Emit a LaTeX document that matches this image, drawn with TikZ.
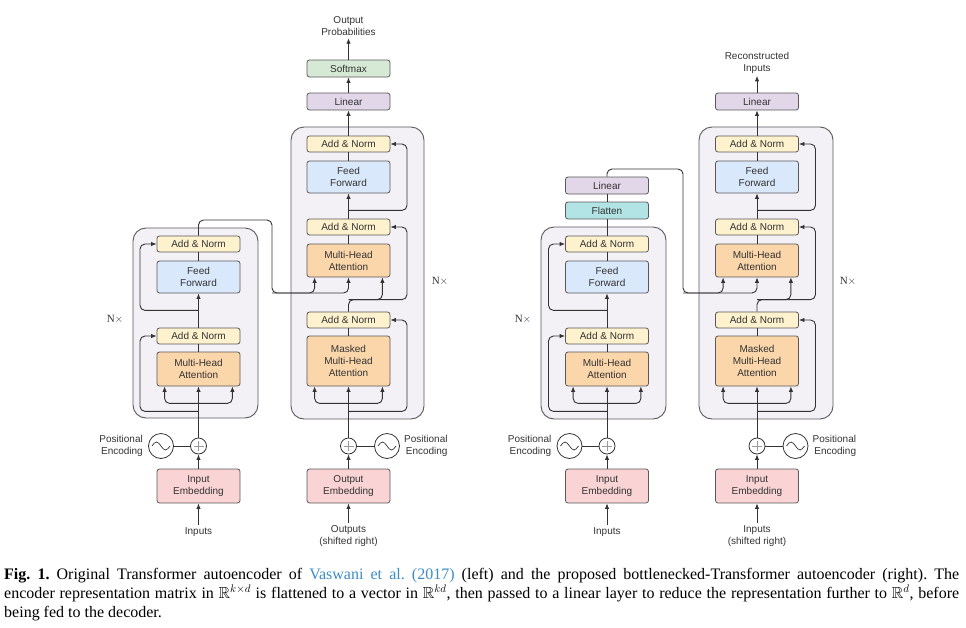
\documentclass[tikz,border=0pt]{standalone}
\usepackage{fontspec}
\usepackage{amssymb}
\setmainfont{Liberation Serif}
\setsansfont{Liberation Sans}
\usetikzlibrary{arrows.meta}

\definecolor{anfill}{HTML}{FDF1CE}
\definecolor{fffill}{HTML}{DAE8FB}
\definecolor{mhafill}{HTML}{FBD6AA}
\definecolor{embfill}{HTML}{FAD4D4}
\definecolor{linfill}{HTML}{E2D6E9}
\definecolor{softfill}{HTML}{D5E9D5}
\definecolor{flatfill}{HTML}{B2E4E6}
\definecolor{stackfill}{HTML}{F3F0F6}
\definecolor{linecol}{HTML}{333333}
\definecolor{capblue}{HTML}{3B8DC4}

\begin{document}
\begin{tikzpicture}[x=1pt,y=-1pt,>={Latex[length=5.5pt,width=4.5pt]},
    wire/.style={draw=linecol,line width=0.9pt,rounded corners=5pt},
    blk/.style={draw=black!65,line width=0.8pt,rounded corners=2.5pt,minimum width=83pt,
      inner sep=2pt,align=center,text=black!80,font=\sffamily\fontsize{10}{12}\selectfont},
    addnorm/.style={blk,fill=anfill,minimum height=16pt},
    ffbox/.style={blk,fill=fffill,minimum height=32pt},
    attn/.style={blk,fill=mhafill,minimum height=34pt},
    embbox/.style={blk,fill=embfill,minimum height=34pt},
    linbox/.style={blk,fill=linfill,minimum height=17pt},
    softbox/.style={blk,fill=softfill,minimum height=17pt},
    flatbox/.style={blk,fill=flatfill,minimum height=17pt},
    stackbox/.style={draw=black!65,fill=stackfill,line width=0.9pt,rounded corners=13pt},
    lbl/.style={inner sep=2pt,align=center,text=black!80,font=\sffamily\fontsize{10}{12}\selectfont},
    nlbl/.style={inner sep=1pt,text=black!80,font=\rmfamily\fontsize{11}{13}\selectfont},
    plusnode/.style={circle,draw=linecol,line width=0.8pt,fill=white,minimum size=16pt,inner sep=0pt,
      path picture={\draw[black!40,line width=0.6pt]
        ([xshift=-5pt]path picture bounding box.center) -- ([xshift=5pt]path picture bounding box.center)
        ([yshift=-5pt]path picture bounding box.center) -- ([yshift=5pt]path picture bounding box.center);}},
    sinenode/.style={circle,draw=linecol,line width=0.8pt,fill=white,minimum size=25pt,inner sep=0pt,
      path picture={\draw[linecol,line width=0.7pt]
        ([xshift=-9pt]path picture bounding box.center) sin ++(4.5,-4) cos ++(4.5,4) sin ++(4.5,4) cos ++(4.5,-4);}}]
  \useasboundingbox (0,0) rectangle (966,627);

  % stacks
  \node (aencbox) [stackbox,minimum width=125pt,minimum height=190pt] at (195.5,323) {};
  \node (adecbox) [stackbox,minimum width=133pt,minimum height=292pt] at (357.5,273) {};
  \node (bencbox) [stackbox,minimum width=125pt,minimum height=192pt] at (603.5,323) {};
  \node (bdecbox) [stackbox,minimum width=134pt,minimum height=292pt] at (766,273) {};

  % left: encoder
  \node (aemb) [embbox] at (198.5,486) {Input\\Embedding};
  \node (ainp) [lbl,below of=aemb,node distance=46pt] {Inputs};
  \node (aplus) [plusnode,above of=aemb,node distance=40pt] {};
  \node (apos) [sinenode,left of=aplus,node distance=37.5pt] {};
  \node (apostxt) [lbl,align=right,left of=apos,node distance=16pt,anchor=east] {Positional\\Encoding};
  \node (amha) [attn,above of=aplus,node distance=77pt] {Multi-Head\\Attention};
  \node (aan1) [addnorm,above of=amha,node distance=33pt] {Add \& Norm};
  \node (aff) [ffbox,above of=aan1,node distance=59pt] {Feed\\Forward};
  \node (aan2) [addnorm,above of=aff,node distance=33pt] {Add \& Norm};
  \node (anx) [nlbl] at (115,319) {N$\times$};

  % left: decoder
  \node (aoemb) [embbox] at (348.5,486) {Output\\Embedding};
  \node (aout) [lbl,below of=aoemb,node distance=50pt] {Outputs\\(shifted right)};
  \node (aoplus) [plusnode,above of=aoemb,node distance=40pt] {};
  \node (aopos) [sinenode,right of=aoplus,node distance=38.5pt] {};
  \node (aopostxt) [lbl,align=right,right of=aopos,node distance=15pt,anchor=west] {Positional\\Encoding};
  \node (amm) [attn,minimum height=50pt,above of=aoplus,node distance=85pt] {Masked\\Multi-Head\\Attention};
  \node (adan1) [addnorm,above of=amm,node distance=41pt] {Add \& Norm};
  \node (admha) [attn,minimum height=33pt,above of=adan1,node distance=59.5pt] {Multi-Head\\Attention};
  \node (adan2) [addnorm,above of=admha,node distance=33.5pt] {Add \& Norm};
  \node (adff) [ffbox,above of=adan2,node distance=50pt] {Feed\\Forward};
  \node (adan3) [addnorm,above of=adff,node distance=33pt] {Add \& Norm};
  \node (alin) [linbox,above of=adan3,node distance=42.5pt] {Linear};
  \node (asoft) [softbox,above of=alin,node distance=33pt] {Softmax};
  \node (aprob) [lbl,above of=asoft,node distance=42pt] {Output\\Probabilities};
  \node (adnx) [nlbl] at (440,281) {N$\times$};

  \draw[wire,->] (ainp) -- (aemb);
  \draw[wire,->] (aemb) -- (aplus);
  \draw[wire] (apos) -- (aplus);
  \draw[wire,->] (aplus) -- (amha);
  \coordinate (asplit) at ([yshift=-17pt]amha.south);
  \draw[wire,->] (asplit) -| ([xshift=8pt]amha.south west);
  \draw[wire,->] (asplit) -| ([xshift=-8pt]amha.south east);
  \coordinate (ares1) at ([yshift=-25pt]amha.south);
  \draw[wire,->] (ares1) -- ++(-58.5,0) |- (aan1.west);
  \draw[wire] (amha) -- (aan1);
  \draw[wire,->] (aan1) -- (aff);
  \coordinate (ares2) at ([yshift=-17pt]aff.south);
  \draw[wire,->] (ares2) -- ++(-58.5,0) |- (aan2.west);
  \draw[wire] (aff) -- (aan2);
  \coordinate (aenc) at (272,293);
  \draw[wire,->] (aan2) -- ++(0,-24) -| (aenc) -| ([xshift=8pt]admha.south west);
  \draw[wire,->] (aenc) -| (admha.south);

  \draw[wire,->] (aout) -- (aoemb);
  \draw[wire,->] (aoemb) -- (aoplus);
  \draw[wire] (aopos) -- (aoplus);
  \draw[wire,->] (aoplus) -- (amm);
  \coordinate (adsplit) at ([yshift=-17pt]amm.south);
  \draw[wire,->] (adsplit) -| ([xshift=8pt]amm.south west);
  \draw[wire,->] (adsplit) -| ([xshift=-8pt]amm.south east);
  \coordinate (adres1) at ([yshift=-25pt]amm.south);
  \draw[wire,->] (adres1) -- ++(58.5,0) |- (adan1.east);
  \draw[wire] (amm) -- (adan1);
  \coordinate (adres2) at ([yshift=12pt]adan1.north);
  \draw[wire,->] (adan1) -- (adres2) -- ++(58.5,0) |- (adan2.east);
  \draw[wire,->] (adres2) -| ([xshift=-8pt]admha.south east);
  \draw[wire] (admha) -- (adan2);
  \draw[wire,->] (adan2) -- (adff);
  \coordinate (adres3) at ([yshift=-17pt]adff.south);
  \draw[wire,->] (adres3) -- ++(58.5,0) |- (adan3.east);
  \draw[wire] (adff) -- (adan3);
  \draw[wire,->] (adan3) -- (alin);
  \draw[wire,->] (alin) -- (asoft);
  \draw[wire,->] (asoft) -- (aprob);

  % right: encoder
  \node (bemb) [embbox] at (607,486) {Input\\Embedding};
  \node (binp) [lbl,below of=bemb,node distance=46pt] {Inputs};
  \node (bplus) [plusnode,above of=bemb,node distance=40pt] {};
  \node (bpos) [sinenode,left of=bplus,node distance=37.5pt] {};
  \node (bpostxt) [lbl,align=right,left of=bpos,node distance=16pt,anchor=east] {Positional\\Encoding};
  \node (bmha) [attn,above of=bplus,node distance=77pt] {Multi-Head\\Attention};
  \node (ban1) [addnorm,above of=bmha,node distance=33pt] {Add \& Norm};
  \node (bff) [ffbox,above of=ban1,node distance=59pt] {Feed\\Forward};
  \node (ban2) [addnorm,above of=bff,node distance=33pt] {Add \& Norm};
  \node (bflat) [flatbox,above of=ban2,node distance=33.5pt] {Flatten};
  \node (blin) [linbox,above of=bflat,node distance=25pt] {Linear};
  \node (bnx) [nlbl] at (523,319) {N$\times$};

  % right: decoder
  \node (boemb) [embbox] at (757,486) {Input\\Embedding};
  \node (bout) [lbl,below of=boemb,node distance=50pt] {Inputs\\(shifted right)};
  \node (boplus) [plusnode,above of=boemb,node distance=40pt] {};
  \node (bopos) [sinenode,right of=boplus,node distance=38.5pt] {};
  \node (bopostxt) [lbl,align=right,right of=bopos,node distance=15pt,anchor=west] {Positional\\Encoding};
  \node (bmm) [attn,minimum height=50pt,above of=boplus,node distance=85pt] {Masked\\Multi-Head\\Attention};
  \node (bdan1) [addnorm,above of=bmm,node distance=41pt] {Add \& Norm};
  \node (bdmha) [attn,minimum height=33pt,above of=bdan1,node distance=59.5pt] {Multi-Head\\Attention};
  \node (bdan2) [addnorm,above of=bdmha,node distance=33.5pt] {Add \& Norm};
  \node (bdff) [ffbox,above of=bdan2,node distance=50pt] {Feed\\Forward};
  \node (bdan3) [addnorm,above of=bdff,node distance=33pt] {Add \& Norm};
  \node (bdlin) [linbox,above of=bdan3,node distance=42.5pt] {Linear};
  \node (brec) [lbl,above of=bdlin,node distance=38.5pt] {Reconstructed\\Inputs};
  \node (bdnx) [nlbl] at (848,281) {N$\times$};

  \draw[wire,->] (binp) -- (bemb);
  \draw[wire,->] (bemb) -- (bplus);
  \draw[wire] (bpos) -- (bplus);
  \draw[wire,->] (bplus) -- (bmha);
  \coordinate (bsplit) at ([yshift=-17pt]bmha.south);
  \draw[wire,->] (bsplit) -| ([xshift=8pt]bmha.south west);
  \draw[wire,->] (bsplit) -| ([xshift=-8pt]bmha.south east);
  \coordinate (bres1) at ([yshift=-25pt]bmha.south);
  \draw[wire,->] (bres1) -- ++(-58.5,0) |- (ban1.west);
  \draw[wire] (bmha) -- (ban1);
  \draw[wire,->] (ban1) -- (bff);
  \coordinate (bres2) at ([yshift=-17pt]bff.south);
  \draw[wire,->] (bres2) -- ++(-58.5,0) |- (ban2.west);
  \draw[wire] (bff) -- (ban2);
  \draw[wire] (ban2) -- (bflat);
  \draw[wire] (bflat) -- (blin);
  \coordinate (benc) at (683,293);
  \draw[wire,->] (blin) -- ++(0,-16.5) -| (benc) -| ([xshift=8pt]bdmha.south west);
  \draw[wire,->] (benc) -| (bdmha.south);

  \draw[wire,->] (bout) -- (boemb);
  \draw[wire,->] (boemb) -- (boplus);
  \draw[wire] (bopos) -- (boplus);
  \draw[wire,->] (boplus) -- (bmm);
  \coordinate (bdsplit) at ([yshift=-17pt]bmm.south);
  \draw[wire,->] (bdsplit) -| ([xshift=8pt]bmm.south west);
  \draw[wire,->] (bdsplit) -| ([xshift=-8pt]bmm.south east);
  \coordinate (bdres1) at ([yshift=-25pt]bmm.south);
  \draw[wire,->] (bdres1) -- ++(58.5,0) |- (bdan1.east);
  \draw[wire] (bmm) -- (bdan1);
  \coordinate (bdres2) at ([yshift=12pt]bdan1.north);
  \draw[wire,->] (bdan1) -- (bdres2) -- ++(58.5,0) |- (bdan2.east);
  \draw[wire,->] (bdres2) -| ([xshift=-8pt]bdmha.south east);
  \draw[wire] (bdmha) -- (bdan2);
  \draw[wire,->] (bdan2) -- (bdff);
  \coordinate (bdres3) at ([yshift=-17pt]bdff.south);
  \draw[wire,->] (bdres3) -- ++(58.5,0) |- (bdan3.east);
  \draw[wire] (bdff) -- (bdan3);
  \draw[wire,->] (bdan3) -- (bdlin);
  \draw[wire,->] (bdlin) -- (brec);

  % caption
  \node (cap) [anchor=north west,text width=955pt,align=justify,inner sep=0pt,
    font=\rmfamily\fontsize{16}{18.8}\selectfont\frenchspacing] at (4,568)
    {\textbf{Fig. 1.} Original Transformer autoencoder of \textcolor{capblue}{Vaswani et al. (2017)} (left) and the proposed bottlenecked-Transformer autoencoder (right). The\linebreak encoder representation matrix in $\mathbb{R}^{k\times d}$ is flattened to a vector in $\mathbb{R}^{kd}$, then passed to a linear layer to reduce the representation further to $\mathbb{R}^{d}$, before\linebreak being fed to the decoder.};
\end{tikzpicture}
\end{document}
